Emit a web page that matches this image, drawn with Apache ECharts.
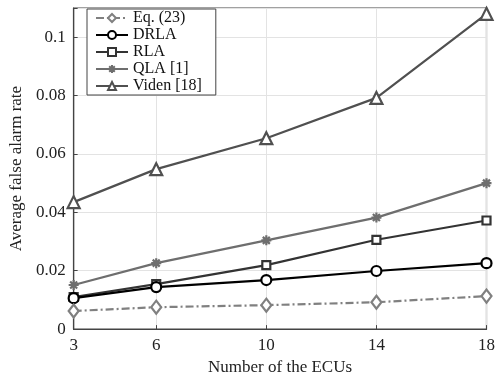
<!DOCTYPE html>
<html><head><meta charset="utf-8">
<script src="https://cdn.jsdelivr.net/npm/echarts@6/dist/echarts.min.js"></script>
<style>html,body{margin:0;padding:0;background:#fff}#c{width:498px;height:381px}</style>
</head><body><div id="c"></div>
<script>
const ecus = [3, 6, 10, 14, 18];
const eq23 = [0.0062, 0.0075, 0.0082, 0.0092, 0.0113];
const drla = [0.0106, 0.0144, 0.0168, 0.0199, 0.0226];
const rla = [0.0110, 0.0154, 0.0219, 0.0306, 0.0372];
const qla = [0.0151, 0.0226, 0.0304, 0.0382, 0.0500];
const viden = [0.0435, 0.0548, 0.0654, 0.0792, 0.1080];
const seriesNames = ['Eq. (23)', 'DRLA', 'RLA', 'QLA [1]', 'Viden [18]'];

const font = 'Liberation Serif';
function pts(arr){ return ecus.map((x,i)=>[x,arr[i]]); }
const starPath = 'path://M0,-10L0,10M-10,0L10,0M-7,-7L7,7M-7,7L7,-7';
const defs = [
  {data: eq23, color:'#808080', symbol:'diamond', size:[10,13], type:[8,3,2,3], width:2.2},
  {data: drla, color:'#000000', symbol:'circle', size:10, type:'solid', width:2.2},
  {data: rla, color:'#333333', symbol:'rect', size:8, type:'solid', width:2.2},
  {data: qla, color:'#6e6e6e', symbol:starPath, size:10, type:'solid', width:2.2},
  {data: viden, color:'#505050', symbol:'triangle', size:12, type:'solid', width:2.2}
];
const series = defs.map((d,i)=>({
  name: seriesNames[i], type:'line', data: pts(d.data),
  symbol: d.symbol, symbolSize: d.size, showAllSymbol:true,
  lineStyle:{color:d.color, width:d.width, type:d.type},
  itemStyle:{color: i===3 ? d.color : '#fff', borderColor:d.color, borderWidth:2.2},
  z: 10-i
}));
const chart = echarts.init(document.getElementById('c'), null, {renderer:'canvas'});
chart.setOption({
  animation:false,
  backgroundColor:'#fff',
  grid:{left:72, right:10, top:8, bottom:51, show:true, borderColor:'#444', borderWidth:1.2},
  legend:{
    orient:'vertical', left:87, top:9, itemWidth:32, itemHeight:10, itemGap:1,
    backgroundColor:'#fff', borderColor:'#444', borderWidth:1, padding:[1,14,1,8],
    textStyle:{fontFamily:font, fontSize:16, lineHeight:16, color:'#111'},
    data: seriesNames
  },
  xAxis:{
    type:'value', min:3, max:18,
    axisLine:{lineStyle:{color:'#444', width:1.2}},
    axisTick:{inside:true, length:4, lineStyle:{color:'#444'}, customValues: ecus},
    axisLabel:{fontFamily:font, fontSize:17, color:'#222', margin:8, customValues: ecus},
    splitLine:{show:true, lineStyle:{color:'#e3e3e3', width:1}},
    name:'Number of the ECUs', nameLocation:'middle', nameGap:27,
    nameTextStyle:{fontFamily:font, fontSize:17, color:'#222'}
  },
  yAxis:{
    type:'value', min:0, max:0.11, interval:0.02,
    axisLine:{show:true, lineStyle:{color:'#444', width:1.2}},
    axisTick:{show:true, inside:true, length:4, lineStyle:{color:'#444'}},
    axisLabel:{fontFamily:font, fontSize:17, color:'#222', margin:8,
      formatter: v => (v>0.105? '' : String(+v.toFixed(2)))},
    splitLine:{show:true, lineStyle:{color:'#e3e3e3', width:1}},
    name:'Average false alarm rate', nameLocation:'middle', nameGap:42,
    nameTextStyle:{fontFamily:font, fontSize:17, color:'#222'}
  },
  series: series
});
</script></body></html>
